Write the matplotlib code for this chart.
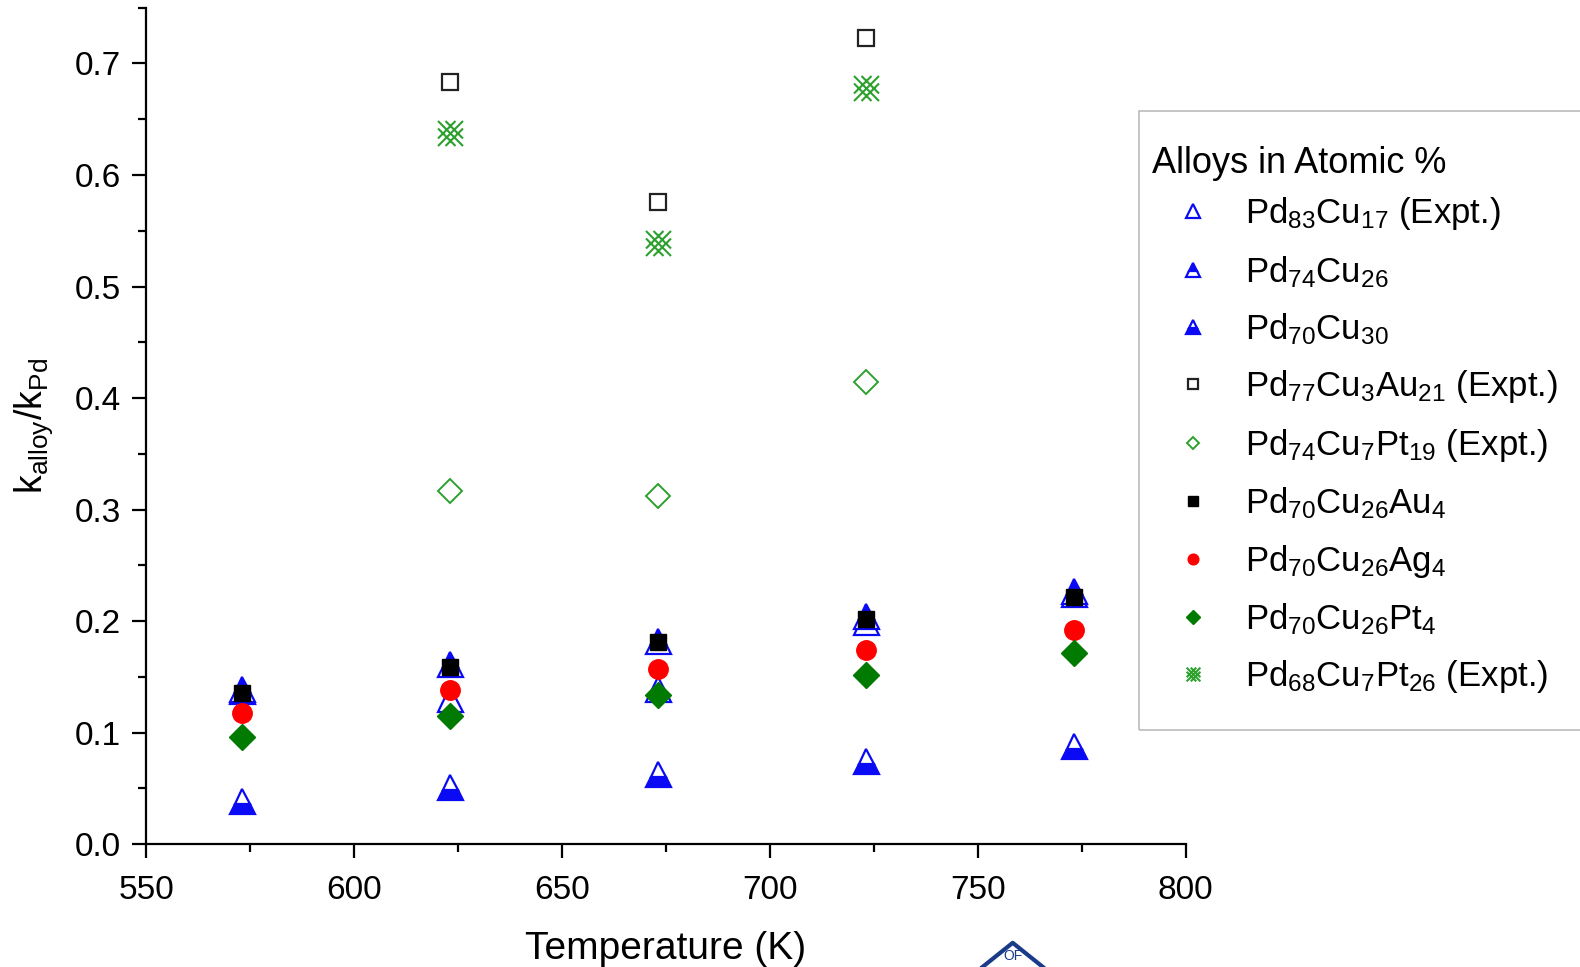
import numpy as np
import matplotlib
matplotlib.use("Agg")
import matplotlib.pyplot as plt
from matplotlib.path import Path
from matplotlib.patches import Rectangle
from matplotlib.ticker import MultipleLocator

plt.rcParams["font.family"] = ["Liberation Sans", "DejaVu Sans"]
plt.rcParams["mathtext.fontset"] = "custom"
plt.rcParams["mathtext.rm"] = "Liberation Sans"
plt.rcParams["mathtext.it"] = "Liberation Sans"

# temperatures (K)
temps = [573, 623, 673, 723, 773]
temps_expt = [623, 673, 723]

# k_alloy / k_Pd
pd83cu17_expt = [0.137, 0.130, 0.139, 0.199, 0.224]
pd74cu26 = [0.139, 0.162, 0.182, 0.205, 0.227]
pd70cu30 = [0.039, 0.051, 0.063, 0.075, 0.088]
pd77cu3au21_expt = [0.683, 0.576, 0.723]
pd74cu7pt19_expt = [0.317, 0.312, 0.414]
pd70cu26au4 = [0.1355, 0.159, 0.181, 0.202, 0.222]
pd70cu26ag4 = [0.118, 0.138, 0.157, 0.174, 0.192]
pd70cu26pt4 = [0.096, 0.115, 0.134, 0.152, 0.171]
pd68cu7pt26_expt = [0.638, 0.539, 0.678]


def lattice_marker():
    """Cross-hatched diamond lattice marker."""
    verts, codes = [], []
    for c in (-0.6, 0.0, 0.6):
        # y = x + c inside the unit box
        x0, x1 = max(-1, -1 - c), min(1, 1 - c)
        verts += [(x0, x0 + c), (x1, x1 + c)]
        codes += [Path.MOVETO, Path.LINETO]
        # y = -x + c inside the unit box
        x0, x1 = max(-1, c - 1), min(1, c + 1)
        verts += [(x0, -x0 + c), (x1, -x1 + c)]
        codes += [Path.MOVETO, Path.LINETO]
    return Path(verts, codes)


BLUE = "#0a0af5"
GREEN = "#007a00"
LGREEN = "#2ea02e"
W, H = 1568, 960

fig = plt.figure(figsize=(15.8, 9.67), dpi=100)
ax = fig.add_axes([0.0925, 0.127, 0.658, 0.865])

ax.plot(temps, pd83cu17_expt, ls="none", marker="^", ms=18, mfc="none",
        mec=BLUE, mew=1.6, label=r"Pd$_{83}$Cu$_{17}$ (Expt.)")
ax.plot(temps, pd74cu26, ls="none", marker="^", ms=18, fillstyle="top",
        mfc=BLUE, mfcalt="white", mec=BLUE, mew=1.6, label=r"Pd$_{74}$Cu$_{26}$")
ax.plot(temps, pd70cu30, ls="none", marker="^", ms=18, fillstyle="bottom",
        mfc=BLUE, mfcalt="white", mec=BLUE, mew=1.6, label=r"Pd$_{70}$Cu$_{30}$")
ax.plot(temps_expt, pd77cu3au21_expt, ls="none", marker="s", ms=12, mfc="none",
        mec="#222222", mew=1.6, label=r"Pd$_{77}$Cu$_{3}$Au$_{21}$ (Expt.)")
ax.plot(temps_expt, pd74cu7pt19_expt, ls="none", marker="D", ms=12, mfc="none",
        mec=LGREEN, mew=1.4, label=r"Pd$_{74}$Cu$_{7}$Pt$_{19}$ (Expt.)")
ax.plot(temps, pd70cu26au4, ls="none", marker="s", ms=12, color="black",
        label=r"Pd$_{70}$Cu$_{26}$Au$_{4}$")
ax.plot(temps, pd70cu26ag4, ls="none", marker="o", ms=14, color="#ff0000",
        label=r"Pd$_{70}$Cu$_{26}$Ag$_{4}$")
ax.plot(temps, pd70cu26pt4, ls="none", marker="D", ms=13, color=GREEN,
        label=r"Pd$_{70}$Cu$_{26}$Pt$_{4}$")
ax.plot(temps_expt, pd68cu7pt26_expt, ls="none", marker=lattice_marker(), ms=18,
        mfc="none", mec=LGREEN, mew=1.5, label=r"Pd$_{68}$Cu$_{7}$Pt$_{26}$ (Expt.)")

ax.set_xlim(550, 800)
ax.set_ylim(0, 0.75)
ax.xaxis.set_major_locator(MultipleLocator(50))
ax.xaxis.set_minor_locator(MultipleLocator(25))
ax.yaxis.set_minor_locator(MultipleLocator(0.05))
ax.set_yticks(np.arange(0, 0.71, 0.1))
ax.yaxis.set_major_formatter(plt.FuncFormatter(lambda v, p: f"{v:.1f}"))

for side in ("top", "right"):
    ax.spines[side].set_visible(False)
for side in ("left", "bottom"):
    ax.spines[side].set_linewidth(1.6)
ax.tick_params(which="major", direction="out", length=10, width=1.6,
               labelsize=24, pad=8)
ax.tick_params(axis="x", which="major", pad=12)
ax.tick_params(which="minor", direction="out", length=6, width=1.6)

ax.set_xlabel("Temperature (K)", fontsize=28, labelpad=18)
ax.set_ylabel(r"k$_{\mathrm{alloy}}$/k$_{\mathrm{Pd}}$", fontsize=27, labelpad=14)

# legend frame running off the right edge, title drawn separately
fig.patches.append(Rectangle((1130 / W, 1 - 725 / H), 0.5, (725 - 110) / H,
                             transform=fig.transFigure, fill=False,
                             edgecolor="#bbbbbb", lw=1.2))
fig.text(1143 / W, 1 - 162 / H, "Alloys in Atomic %", fontsize=26,
         ha="left", va="center")
leg = fig.legend(loc="upper left", bbox_to_anchor=(1143 / W, 1 - 194 / H),
                 fontsize=25, markerscale=0.55, handlelength=2.4,
                 handletextpad=0.3, labelspacing=0.62, borderpad=0,
                 borderaxespad=0, frameon=False)

# partial logo at the bottom edge
fig.lines.append(plt.Line2D([975 / W, 1005 / W, 1035 / W],
                            [0.0, 24 / H, 0.0], transform=fig.transFigure,
                            color="#1a3a8a", lw=3))
fig.text(1005 / W, 0.004, "OF", color="#1a3a8a", fontsize=10,
         ha="center", va="bottom")

fig.savefig("out.png", dpi=100)
